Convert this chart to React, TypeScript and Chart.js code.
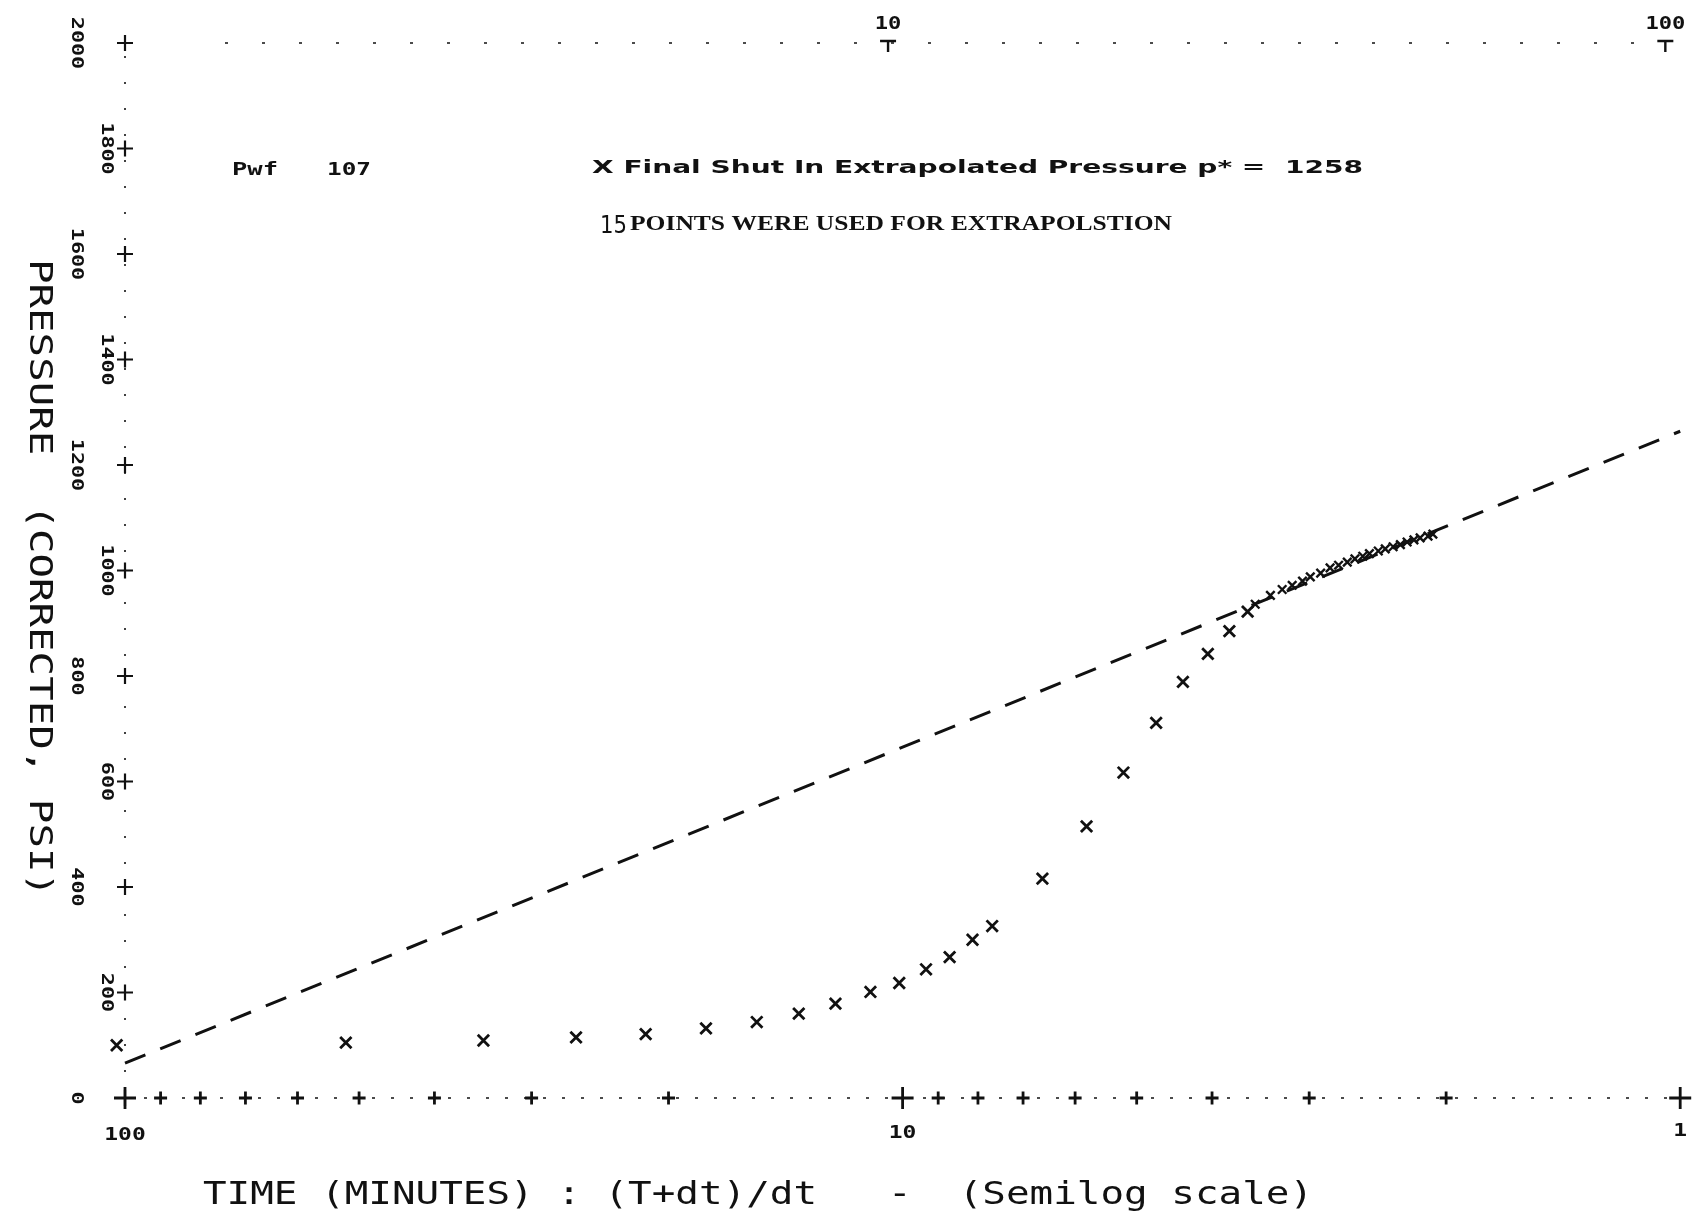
import React, { useEffect, useRef } from "react";
import { Chart, registerables } from "chart.js";
Chart.register(...registerables);

// (T+dt)/dt and shut-in pressure (psi), early build-up points
const hornerTime = [102.5, 52.0, 34.6, 26.3, 21.4, 17.9, 15.4, 13.6, 12.2, 11.0, 10.1, 9.33, 8.7, 8.13, 7.67, 6.61, 5.8, 5.2, 4.72, 4.36, 4.05, 3.8, 3.6];
const shutInPressure = [100, 105, 109, 115, 121, 132, 144, 160, 179, 201, 218, 244, 267, 300, 326, 416, 515, 617, 711, 789, 842, 885, 922];
// late build-up points (dense cluster)
const lateHornerTime = [3.52, 3.365, 3.25, 3.155, 3.06, 2.99, 2.9, 2.82, 2.75, 2.68, 2.62, 2.56, 2.51, 2.445, 2.395, 2.34, 2.29, 2.245, 2.2, 2.16, 2.11, 2.08];
const latePressure = [936, 953, 964, 972, 980, 988, 995, 1005, 1010, 1016, 1022, 1027, 1032, 1037, 1041, 1045, 1049, 1054, 1058, 1062, 1065, 1069];
// extrapolation line
const fitTime = [100, 1];
const fitPressure = [66, 1264];

// axis decorations
const xTickValues = [100, 90, 80, 70, 60, 50, 40, 30, 20, 10, 9, 8, 7, 6, 5, 4, 3, 2, 1];
const xMajorValues = [100, 10, 1];
const bottomLabelValues = [100, 10, 1];
const bottomLabels = ["100", "10", "1"];
const topLabelValues = [10.44, 1.045];
const topLabels = ["10", "100"];
const yTickValues = [0, 200, 400, 600, 800, 1000, 1200, 1400, 1600, 1800, 2000];
const yTickLabels = ["0", "200", "400", "600", "800", "1000", "1200", "1400", "1600", "1800", "2000"];

const pwfText = "Pwf";
const pwfValue = "107";
const extrapText = "X Final Shut In Extrapolated Pressure p* =  1258";
const pointsNum = "15";
const pointsText = "POINTS WERE USED FOR EXTRAPOLSTION";
const xTitle = "TIME (MINUTES) : (T+dt)/dt   -  (Semilog scale)";
const yTitle = "PRESSURE  (CORRECTED, PSI)";

const INK = "#111";

function fitText(ctx: CanvasRenderingContext2D, text: string, x: number, y: number, width: number, font: string, rotate = 0, align: "left" | "center" = "left") {
  ctx.save();
  ctx.font = font;
  const w = ctx.measureText(text).width;
  const s = width / w;
  ctx.translate(x, y);
  if (rotate) ctx.rotate(rotate);
  ctx.scale(s, 1);
  ctx.textAlign = align;
  ctx.textBaseline = "middle";
  ctx.fillStyle = INK;
  ctx.fillText(text, 0, 0);
  ctx.restore();
}

function scaledText(ctx: CanvasRenderingContext2D, text: string, x: number, y: number, sx: number, font: string, rotate = 0) {
  ctx.save();
  ctx.font = font;
  ctx.translate(x, y);
  if (rotate) ctx.rotate(rotate);
  ctx.scale(sx, 1);
  ctx.textAlign = "center";
  ctx.textBaseline = "middle";
  ctx.fillStyle = INK;
  ctx.fillText(text, 0, 0);
  ctx.restore();
}

const decorPlugin = {
  id: "decor",
  beforeDraw(chart: any) {
    const ctx = chart.ctx;
    ctx.save();
    ctx.fillStyle = "#fff";
    ctx.fillRect(0, 0, chart.width, chart.height);
    ctx.restore();
  },
  beforeDatasetsDraw(chart: any) {
    const ctx: CanvasRenderingContext2D = chart.ctx;
    const xs = chart.scales.x;
    const ys = chart.scales.y;
    const x100 = xs.getPixelForValue(100);
    const x1 = xs.getPixelForValue(1);
    const y0 = ys.getPixelForValue(0);
    const yTop = ys.getPixelForValue(2000);
    ctx.save();
    ctx.strokeStyle = INK;
    ctx.lineWidth = 1.6;
    // bottom dotted axis
    ctx.setLineDash([3, 16]);
    ctx.beginPath();
    ctx.moveTo(x100, y0);
    ctx.lineTo(x1, y0);
    ctx.stroke();
    // left dotted axis
    ctx.setLineDash([2, 24]);
    ctx.beginPath();
    ctx.moveTo(x100, y0);
    ctx.lineTo(x100, yTop);
    ctx.stroke();
    // top dotted line
    ctx.setLineDash([3, 34]);
    ctx.beginPath();
    ctx.moveTo(x100 + 100, yTop);
    ctx.lineTo(x1 - 40, yTop);
    ctx.stroke();
    ctx.setLineDash([]);
    // top label marks
    ctx.lineWidth = 2.4;
    topLabelValues.forEach((v) => {
      const px = xs.getPixelForValue(v);
      ctx.beginPath();
      ctx.moveTo(px - 8, yTop - 2);
      ctx.lineTo(px + 8, yTop - 2);
      ctx.moveTo(px, yTop - 2);
      ctx.lineTo(px, yTop + 9);
      ctx.stroke();
    });
    ctx.restore();
  },
  afterDraw(chart: any) {
    const ctx: CanvasRenderingContext2D = chart.ctx;
    const xs = chart.scales.x;
    const ys = chart.scales.y;
    const x100 = xs.getPixelForValue(100);
    const tickFont = "bold 15px 'DejaVu Sans Mono'";
    // y tick labels, rotated clockwise, staggered
    yTickValues.forEach((v, i) => {
      const py = ys.getPixelForValue(v);
      const px = i % 2 === 0 ? x100 - 49 : x100 - 19;
      scaledText(ctx, yTickLabels[i], px, py, 1.45, tickFont, Math.PI / 2);
    });
    // bottom labels
    bottomLabelValues.forEach((v, i) => {
      const px = xs.getPixelForValue(v);
      scaledText(ctx, bottomLabels[i], px, ys.getPixelForValue(0) + 38 - i * 2, 1.35, "bold 17px 'DejaVu Sans Mono'");
    });
    // top labels
    topLabelValues.forEach((v, i) => {
      const px = xs.getPixelForValue(v);
      scaledText(ctx, topLabels[i], px, ys.getPixelForValue(2000) - 18, 1.3, "bold 17px 'DejaVu Sans Mono'");
    });
    // annotations
    fitText(ctx, pwfText, 232, 170, 46, "bold 18px 'DejaVu Sans Mono'");
    fitText(ctx, pwfValue, 327, 170, 44, "bold 18px 'DejaVu Sans Mono'");
    fitText(ctx, extrapText, 592, 168, 771, "bold 18px 'DejaVu Sans'");
    fitText(ctx, pointsNum, 600, 227, 27, "24px 'DejaVu Sans'");
    fitText(ctx, pointsText, 630, 225, 542, "bold 21px 'Liberation Serif'");
    // axis titles
    fitText(ctx, xTitle, 203, 1196, 1110, "32px 'DejaVu Sans Mono'");
    fitText(ctx, yTitle, 38, 259, 638, "32px 'DejaVu Sans Mono'", Math.PI / 2);
  },
};

export default function App() {
  const ref = useRef<HTMLCanvasElement | null>(null);
  useEffect(() => {
    if (!ref.current) return;
    const early = hornerTime.map((x, i) => ({ x, y: shutInPressure[i] }));
    const late = lateHornerTime.map((x, i) => ({ x, y: latePressure[i] }));
    const fit = fitTime.map((x, i) => ({ x, y: fitPressure[i] }));
    const xMarks = xTickValues.map((x) => ({ x, y: 0 }));
    const yMarks = yTickValues.map((y) => ({ x: 100, y }));
    const chart = new Chart(ref.current, {
      type: "scatter",
      data: {
        datasets: [
          {
            type: "line",
            data: fit,
            borderColor: INK,
            borderWidth: 3,
            borderDash: [22, 16],
            pointRadius: 0,
            showLine: true,
            clip: false,
          } as any,
          {
            data: early,
            pointStyle: "crossRot",
            pointRadius: 8,
            borderColor: INK,
            borderWidth: 2.8,
            clip: false,
          } as any,
          {
            data: late,
            pointStyle: "crossRot",
            pointRadius: 6,
            borderColor: INK,
            borderWidth: 2.4,
            clip: false,
          } as any,
          {
            data: xMarks,
            pointStyle: "cross",
            pointRadius: (c: any) => (xMajorValues.includes(xTickValues[c.dataIndex]) ? 11 : 6.5),
            borderColor: INK,
            borderWidth: 2.8,
            clip: false,
          } as any,
          {
            data: yMarks,
            pointStyle: "cross",
            pointRadius: 8,
            borderColor: INK,
            borderWidth: 2.2,
            clip: false,
          } as any,
        ],
      },
      options: {
        animation: false,
        responsive: false,
        events: [],
        layout: { padding: { left: 125, right: 13, top: 43, bottom: 117 } },
        plugins: { legend: { display: false }, tooltip: { enabled: false } },
        scales: {
          x: { type: "logarithmic", min: 1, max: 100, reverse: true, display: false },
          y: { type: "linear", min: 0, max: 2000, display: false },
        },
      } as any,
      plugins: [decorPlugin],
    });
    return () => chart.destroy();
  }, []);
  return (
    <div style={{ position: "fixed", left: 0, top: 0, width: 1694, height: 1215, background: "#fff" }}>
      <canvas ref={ref} width={1694} height={1215} style={{ width: 1694, height: 1215 }} />
    </div>
  );
}
